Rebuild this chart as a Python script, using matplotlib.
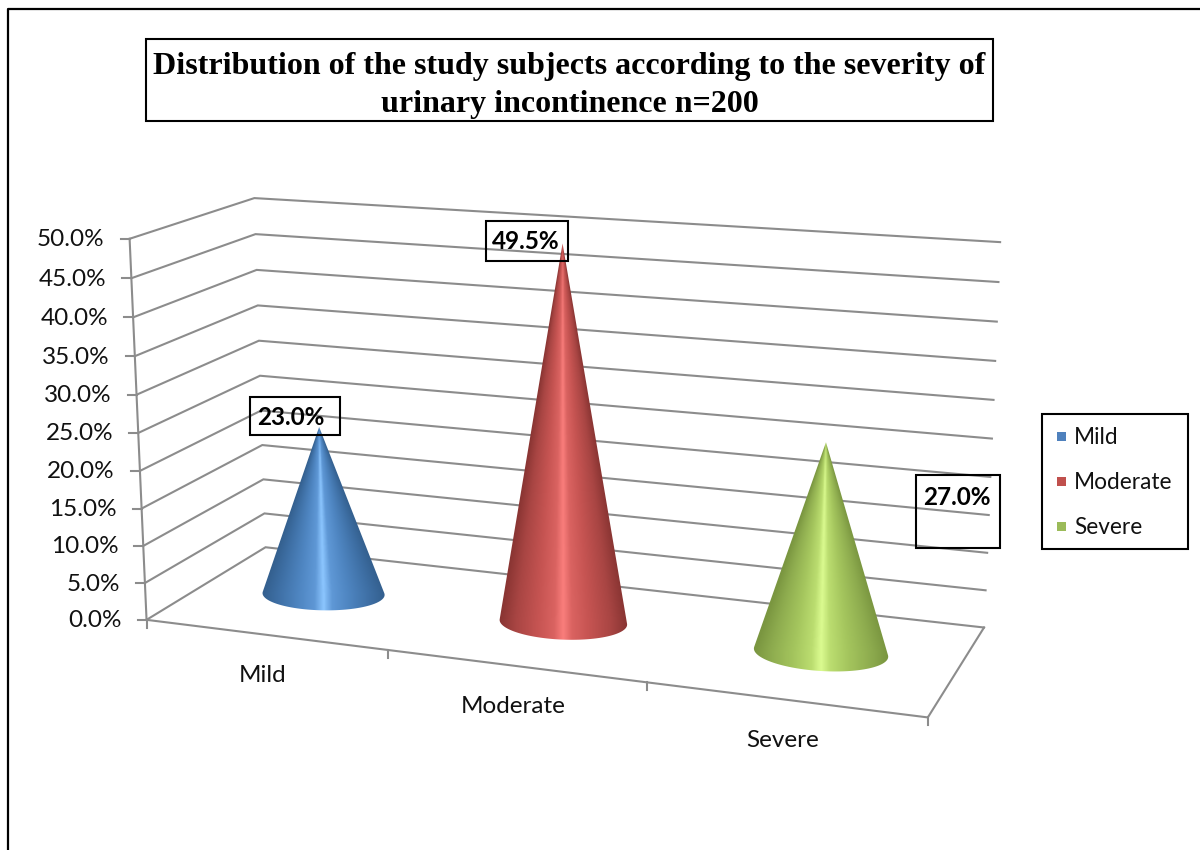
import numpy as np
import matplotlib
matplotlib.use("Agg")
import matplotlib.pyplot as plt
from matplotlib.patches import Rectangle, Polygon
from matplotlib.colors import LinearSegmentedColormap

categories = ["Mild", "Moderate", "Severe"]
values = [23.0, 49.5, 27.0]
value_ticks = [0, 5, 10, 15, 20, 25, 30, 35, 40, 45, 50]
value_max = 50.0
title = "Distribution of the study subjects according to the severity of\nurinary incontinence n=200"

legend_colors = ["#4F81BD", "#C0504D", "#9BBB59"]
ramp_stops = [0, 0.12, 0.3, 0.43, 0.5, 0.57, 0.7, 0.88, 1]
cone_ramps = [
    ["#34608F", "#3E6FA4", "#4F86C2", "#5F98D6", "#8CC6FF", "#5F98D6", "#4F86C2", "#3E6FA4", "#34608F"],
    ["#8A3533", "#A84543", "#C65452", "#DA6361", "#FA7E7C", "#DA6361", "#C65452", "#A84543", "#8A3533"],
    ["#7A9640", "#8DAB4E", "#A5C65E", "#BBDD70", "#DBFB90", "#BBDD70", "#A5C65E", "#8DAB4E", "#7A9640"],
]

# camera: unit-box anchors (across, depth, height) -> pixels, solved as a projective camera
anchors = [
    ((0, 0, 0), (147, 620)), ((0, 0, 1), (129, 239)),
    ((0, 1, 0), (265, 547)), ((0, 1, 1), (255, 198)),
    ((1, 1, 0), (984, 628)), ((1, 1, 1), (1000, 242)),
    ((1, 0, 0), (928, 717)),
]
A, b = [], []
for (X, Y, Z), (px, py) in anchors:
    A.append([X, Y, Z, 1, 0, 0, 0, 0, -px * X, -px * Y, -px * Z]); b.append(px)
    A.append([0, 0, 0, 0, X, Y, Z, 1, -py * X, -py * Y, -py * Z]); b.append(py)
sol = np.linalg.lstsq(np.array(A, float), np.array(b, float), rcond=None)[0]
P = np.append(sol, 1.0).reshape(3, 4)


def proj(u, d, h):
    q = P @ np.array([u, d, h, 1.0])
    return q[0] / q[2], q[1] / q[2]


def hull(points):
    pts = sorted(set(map(tuple, points)))
    def half(seq):
        out = []
        for p in seq:
            while len(out) > 1 and ((out[-1][0] - out[-2][0]) * (p[1] - out[-2][1])
                                    - (out[-1][1] - out[-2][1]) * (p[0] - out[-2][0])) <= 0:
                out.pop()
            out.append(p)
        return out[:-1]
    return half(pts) + half(pts[::-1])


fig = plt.figure(figsize=(12, 8.5), dpi=100)
ax = fig.add_axes([0, 0, 1, 1])
ax.set_xlim(0, 1200)
ax.set_ylim(850, 0)
ax.axis("off")

LABEL_FONT = "Lato"
GRID = "#8C8C8C"
FS = 17.5

# outer frame (left and top edges are the only ones inside the picture)
ax.plot([8, 8, 1201], [852, 9, 9], color="black", lw=1.6, zorder=1, clip_on=False)

# gridlines on side wall and back wall
for t in value_ticks:
    h = t / value_max
    xs, ys = zip(proj(0, 0, h), proj(0, 1, h), proj(1, 1, h))
    ax.plot(xs, ys, color=GRID, lw=1.5, zorder=2, solid_joinstyle="miter")
    fx, fy = proj(0, 0, h)
    ax.plot([fx - 9, fx], [fy, fy], color=GRID, lw=1.5, zorder=2)
    ax.text(fx - 25, fy + 1, f"{t:.1f}%", ha="right", va="center",
            fontsize=FS, family=LABEL_FONT, color="#111111", zorder=6)

# axis lines
xs, ys = zip(proj(0, 0, 0), proj(0, 0, 1))
ax.plot(xs, ys, color=GRID, lw=1.5, zorder=2)
xs, ys = zip(proj(0, 0, 0), proj(1, 0, 0), proj(1, 1, 0))
ax.plot(xs, ys, color=GRID, lw=1.5, zorder=2, solid_joinstyle="miter")
n = len(categories)
for i in range(n + 1):
    x, y = proj(i / n, 0, 0)
    ax.plot([x, x], [y, y + 8], color=GRID, lw=1.5, zorder=2)

# category labels
for i, c in enumerate(categories):
    x, y = proj((i + 0.5) / n, 0, 0)
    ax.text(x - 2, y + 41, c, ha="center", va="center", fontsize=FS,
            family=LABEL_FONT, color="#111111", zorder=6)

# cones: shading follows the cone's surface, so it converges on the tip
ru, rd, dc = 0.082, 0.2, 0.52
theta = np.linspace(0, 2 * np.pi, 180, endpoint=False)
for i, v in enumerate(values):
    uc = (i + 0.5) / n - 0.002
    base = [proj(uc + ru * np.cos(a), dc + rd * np.sin(a), 0) for a in theta]
    tip = proj(uc, dc, v / value_max)
    outline = hull(base + [tip])
    bx = np.array([p[0] for p in outline])
    by = np.array([p[1] for p in outline])
    cmap = LinearSegmentedColormap.from_list(f"c{i}", list(zip(ramp_stops, cone_ramps[i])))
    x0, x1, y0, y1 = bx.min(), bx.max(), by.min(), by.max()
    gx, gy = np.meshgrid(np.arange(np.floor(x0), np.ceil(x1) + 1),
                         np.arange(np.floor(y0), np.ceil(y1) + 1))
    cx, cy = proj(uc, dc, 0)
    half_w = (x1 - x0) / 2
    mid_x = (x0 + x1) / 2
    frac = np.clip((gy - tip[1]) / (cy - tip[1]), 0.02, 1.0)
    axis_x = tip[0] + (mid_x - tip[0]) * frac
    shade = np.clip(0.5 + (gx - axis_x) / (2 * half_w * frac), 0, 1)
    im = ax.imshow(shade, cmap=cmap, vmin=0, vmax=1,
                   extent=[gx.min(), gx.max(), gy.max(), gy.min()],
                   aspect="auto", zorder=3, interpolation="bilinear")
    im.set_clip_path(Polygon(np.c_[bx, by], closed=True, transform=ax.transData))
ax.set_xlim(0, 1200)
ax.set_ylim(850, 0)

# value labels: boxes beside each tip
label_boxes = [(250, 397, 90, 38), (486, 221, 82, 40), (916, 475, 84, 73)]
label_text_xy = [(291, 417), (526, 241), (957, 497)]
for v, (bx0, by0, bw, bh), (tx, ty) in zip(values, label_boxes, label_text_xy):
    ax.add_patch(Rectangle((bx0, by0), bw, bh, fill=False, ec="black", lw=1.5, zorder=5))
    ax.text(tx, ty, f"{v:.1f}%", ha="center", va="center", fontsize=FS,
            fontweight="bold", family=LABEL_FONT, color="black", zorder=6)

# title
ax.add_patch(Rectangle((146, 39), 847, 82, fc="white", ec="black", lw=1.5, zorder=5))
ax.text(569.5, 85.5, title, ha="center", va="center", fontsize=23, fontweight="bold",
        family="Liberation Serif", linespacing=1.45, color="black", zorder=6)

# legend
ax.add_patch(Rectangle((1042, 414), 146, 135, fc="white", ec="black", lw=1.5, zorder=5))
for c, col, yy in zip(categories, legend_colors, [436, 481, 526]):
    ax.add_patch(Rectangle((1057, yy - 4.5), 9, 9, fc=col, ec="none", zorder=6))
    ax.text(1074, yy + 1, c, ha="left", va="center", fontsize=16.3, family=LABEL_FONT,
            color="#111111", zorder=6)

fig.savefig("out.png", dpi=100, facecolor="white")
